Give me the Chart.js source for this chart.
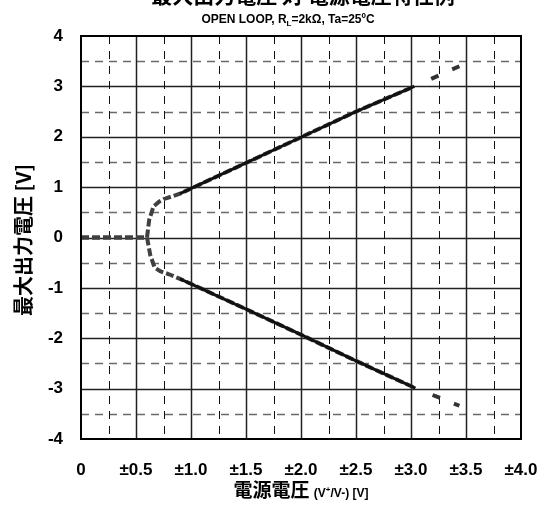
<!DOCTYPE html>
<html>
<head>
<meta charset="utf-8">
<script src="https://cdn.jsdelivr.net/npm/chart.js@4"></script>
<style>
  html, body { margin: 0; padding: 0; background: #fff; }
  #wrap { width: 550px; height: 515px; }
</style>
</head>
<body>
<div id="wrap"><canvas id="vChart" width="550" height="515"></canvas></div>
<script>
// values
const upperX = [0, 0.6, 0.62, 0.66, 0.71, 0.75, 0.9, 1.5, 2.0, 2.5, 3.03];
const upperY = [0, 0, 0.35, 0.62, 0.71, 0.76, 0.87, 1.48, 1.99, 2.5, 3.0];
const upperExtX = [3.03, 3.44];
const upperExtY = [3.0, 3.4];

const lowerX = [0, 0.6, 0.63, 0.67, 0.72, 0.8, 0.9, 1.5, 2.0, 2.5, 3.04];
const lowerY = [0, 0, -0.35, -0.6, -0.67, -0.73, -0.82, -1.42, -1.93, -2.45, -2.99];
const lowerExtX = [3.04, 3.44];
const lowerExtY = [-2.99, -3.34];

const xTicks = [0, 0.5, 1.0, 1.5, 2.0, 2.5, 3.0, 3.5, 4.0];
const yTicks = [-4, -3, -2, -1, 0, 1, 2, 3, 4];

const LAT = "'Liberation Sans', Arial, sans-serif";
const JP = "'Noto Sans CJK JP', 'Liberation Sans', sans-serif";

function pts(xs, ys) { return xs.map((x, i) => ({ x: x, y: ys[i] })); }

// black line under gray dashes where the curve is straight
function solidPart(xs, ys) {
  const out = [];
  xs.forEach((x, i) => { if (x >= 0.85) out.push({ x: x, y: ys[i] }); });
  return out;
}

const gridPlugin = {
  id: 'gridPlugin',
  beforeDatasetsDraw(chart) {
    const { ctx, chartArea: a, scales: { x, y } } = chart;
    ctx.save();
    // horizontal lines every 0.5
    for (let v = -3.5; v < 4; v += 0.5) {
      const py = Math.round(y.getPixelForValue(v)) + 0.5;
      const whole = Math.abs(v % 1) < 1e-6;
      ctx.beginPath();
      ctx.strokeStyle = whole ? '#222' : '#6a6a6a';
      ctx.lineWidth = 1.5;
      ctx.setLineDash(whole ? [] : [8, 6]);
      ctx.moveTo(a.left, py); ctx.lineTo(a.right, py);
      ctx.stroke();
    }
    // vertical lines every 0.25
    for (let v = 0.25; v < 4; v += 0.25) {
      const px = Math.round(x.getPixelForValue(v)) + 0.5;
      const half = Math.abs((v * 2) % 1) < 1e-6;
      ctx.beginPath();
      ctx.strokeStyle = half ? '#222' : '#111';
      ctx.lineWidth = half ? 1.5 : 1;
      ctx.setLineDash(half ? [] : [8, 7]);
      ctx.moveTo(px, a.top); ctx.lineTo(px, a.bottom);
      ctx.stroke();
    }
    ctx.restore();
  },
  afterDatasetsDraw(chart) {
    const { ctx, chartArea: a } = chart;
    ctx.save();
    ctx.strokeStyle = '#000';
    ctx.lineWidth = 2;
    ctx.setLineDash([]);
    ctx.strokeRect(a.left, a.top, a.right - a.left, a.bottom - a.top);
    ctx.restore();
  }
};

const textPlugin = {
  id: 'textPlugin',
  afterDraw(chart) {
    const { ctx, chartArea: a } = chart;
    const cx = (a.left + a.right) / 2;
    ctx.save();
    ctx.fillStyle = '#000';

    // main title, mostly cut off by the top edge
    ctx.font = 'bold 21px ' + JP;
    ctx.textAlign = 'center';
    ctx.textBaseline = 'alphabetic';
    ctx.fillText('最大出力電圧 対 電源電圧特性例', 303, 3);

    // subtitle with subscript L
    const parts = [
      { t: 'OPEN LOOP, R', f: 'bold 12px ' + LAT, dy: 0 },
      { t: 'L', f: 'bold 8px ' + LAT, dy: 3 },
      { t: '=2kΩ, Ta=25ºC', f: 'bold 12px ' + LAT, dy: 0 }
    ];
    let w = 0;
    parts.forEach(p => { ctx.font = p.f; w += ctx.measureText(p.t).width; });
    let sx = 288 - w / 2;
    ctx.textAlign = 'left';
    parts.forEach(p => {
      ctx.font = p.f;
      ctx.fillText(p.t, sx, 23 + p.dy);
      sx += ctx.measureText(p.t).width;
    });

    // x axis title
    const xp = [
      { t: '電源電圧 ', f: 'bold 19px ' + JP, dy: 0 },
      { t: '(V', f: 'bold 12px ' + LAT, dy: 0 },
      { t: '+', f: 'bold 8px ' + LAT, dy: -5 },
      { t: '/V-) [V]', f: 'bold 12px ' + LAT, dy: 0 }
    ];
    w = 0;
    xp.forEach(p => { ctx.font = p.f; w += ctx.measureText(p.t).width; });
    sx = cx - w / 2;
    xp.forEach(p => {
      ctx.font = p.f;
      ctx.fillText(p.t, sx, 497 + p.dy);
      sx += ctx.measureText(p.t).width;
    });

    // y axis title
    ctx.translate(23, 240);
    ctx.rotate(-Math.PI / 2);
    ctx.textAlign = 'center';
    ctx.textBaseline = 'middle';
    ctx.font = 'bold 20px ' + JP;
    ctx.fillText('最大出力電圧 [V]', 0, 0);
    ctx.restore();
  }
};

const extDash = [0, 18.5, 8, 15, 8, 40];

new Chart(document.getElementById('vChart'), {
  type: 'scatter',
  data: {
    datasets: [
      { data: solidPart(upperX, upperY), showLine: true, borderColor: '#111', borderWidth: 3, pointRadius: 0 },
      { data: solidPart(lowerX, lowerY), showLine: true, borderColor: '#111', borderWidth: 3, pointRadius: 0 },
      { data: pts(upperX, upperY), showLine: true, borderColor: '#404040', borderWidth: 4, borderDash: [8, 3], pointRadius: 0 },
      { data: pts(lowerX, lowerY), showLine: true, borderColor: '#404040', borderWidth: 4, borderDash: [8, 3], pointRadius: 0 },
      { data: pts(upperExtX, upperExtY), showLine: true, borderColor: '#333', borderWidth: 4, borderDash: extDash, pointRadius: 0 },
      { data: pts(lowerExtX, lowerExtY), showLine: true, borderColor: '#333', borderWidth: 4, borderDash: extDash, pointRadius: 0 }
    ]
  },
  options: {
    responsive: false,
    animation: false,
    layout: { padding: { top: 36, right: 29, left: 0, bottom: 0 } },
    plugins: { legend: { display: false }, tooltip: { enabled: false } },
    scales: {
      x: {
        type: 'linear', min: 0, max: 4,
        afterFit: s => { s.height = 76; s.paddingLeft = 0; s.paddingRight = 0; },
        afterBuildTicks: s => { s.ticks = xTicks.map(v => ({ value: v })); },
        grid: { display: false, drawTicks: false }, border: { display: false },
        ticks: {
          padding: 21, color: '#000',
          font: { family: LAT, size: 17, weight: 'bold' },
          callback: v => v === 0 ? '0' : '±' + Number(v).toFixed(1)
        }
      },
      y: {
        type: 'linear', min: -4, max: 4,
        afterFit: s => { s.width = 81; s.paddingTop = 0; s.paddingBottom = 0; },
        afterBuildTicks: s => { s.ticks = yTicks.map(v => ({ value: v })); },
        grid: { display: false, drawTicks: false }, border: { display: false },
        ticks: {
          padding: 18, color: '#000',
          font: { family: LAT, size: 17, weight: 'bold' },
          callback: v => String(v)
        }
      }
    }
  },
  plugins: [gridPlugin, textPlugin]
});
</script>
</body>
</html>
